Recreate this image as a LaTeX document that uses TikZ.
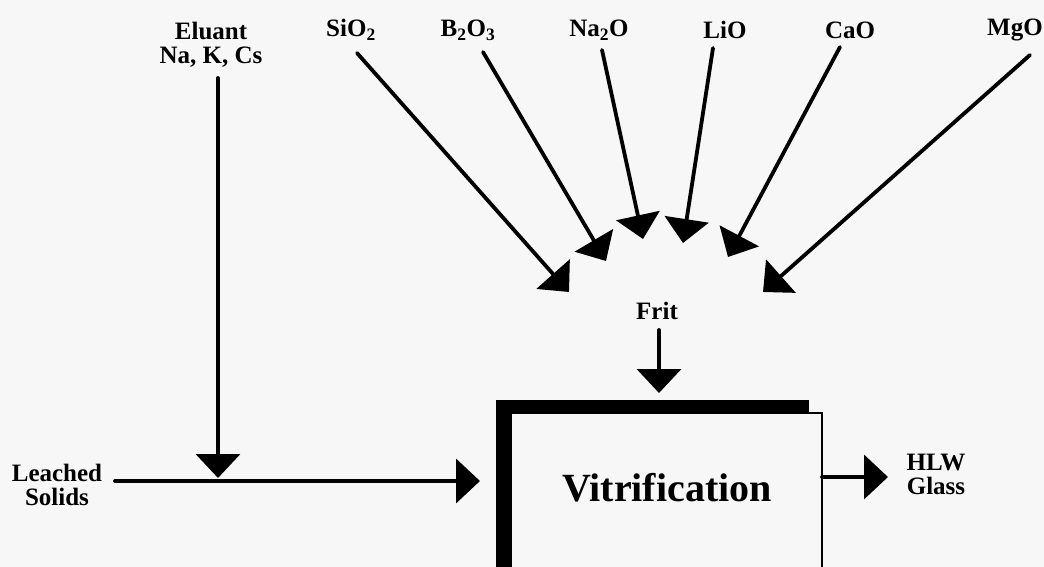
\documentclass[tikz,border=0pt]{standalone}
\usepackage{fontspec}
\setmainfont{Liberation Serif}
\usetikzlibrary{arrows.meta}
\usepackage{tkz-euclide}
\definecolor{scanbg}{RGB}{247,247,247}
\tikzset{flow/.style={line width=3.8pt,-{Triangle[length=24pt,width=44pt]}},
  lbl/.style={font=\bfseries\fontsize{25}{24}\selectfont,align=center,inner sep=0pt}}

\begin{document}
\begin{tikzpicture}[x=1pt,y=-1pt]
\useasboundingbox (0,0) rectangle (1044,567);
\clip (0,0) rectangle (1044,567);
\fill[scanbg] (0,0) rectangle (1044,567);

\tkzDefPoints{218/78/E1,218/478/E2,115/481/L1,480/481/L2}
\tkzDefPoints{357/53/S1,569/292/S2,483/52/B1,606/261/B2,602/50/N1,643/239/N2}
\tkzDefPoints{713/48/Li1,683/243/Li2,840/47/C1,728/257/C2,1030/55/M1,763/292/M2}
\tkzDefPoints{659/330/F1,659/393/F2,822/477/H1,888/477/H2}

\fill[black] (496,400) rectangle (809,600);
\draw[fill=scanbg,line width=1.5pt] (511,413) rectangle (822,600);
\node[font=\bfseries\fontsize{40}{44}\selectfont] (vitri) at (667,488) {Vitrification};

\node[lbl] (eluant) at (211,45) {Eluant\\Na, K, Cs};
\node[lbl] (leached) at (57,485) {Leached\\Solids};
\node[lbl] (sio) at (351,30) {SiO\textsubscript{2}};
\node[lbl] (bo) at (468,30) {B\textsubscript{2}O\textsubscript{3}};
\node[lbl] (nao) at (599,30) {Na\textsubscript{2}O};
\node[lbl] (lio) at (725,30) {LiO};
\node[lbl] (cao) at (850,30) {CaO};
\node[lbl] (mgo) at (1015,30) {MgO};
\node[lbl] (frit) at (657,311) {Frit};
\node[lbl] (hlw) at (936,474) {HLW\\Glass};

\tkzDrawSegments[flow](E1,E2 L1,L2 F1,F2 H1,H2)
\tkzDrawSegments[flow](S1,S2 B1,B2 N1,N2 Li1,Li2 C1,C2 M1,M2)

\end{tikzpicture}
\end{document}
